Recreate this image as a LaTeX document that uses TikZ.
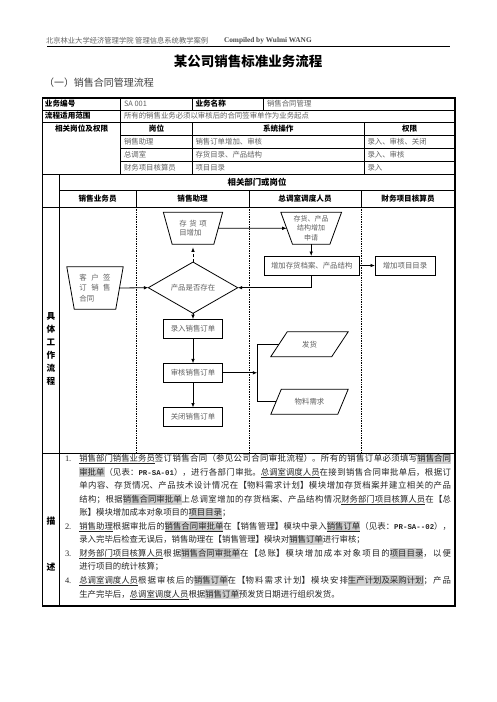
\documentclass[tikz,border=0pt]{standalone}
\usepackage{fontspec}
\setmainfont{Noto Sans CJK SC}
\newfontfamily\latserif{Liberation Serif}
\newfontfamily\monof{Liberation Mono}
\usetikzlibrary{arrows.meta,shapes.geometric,calc}
\definecolor{txtgray}{gray}{0.38}
\definecolor{hlgray}{gray}{0.82}
\XeTeXlinebreaklocale "zh"
\XeTeXlinebreakskip=0pt plus 1pt minus 0.2pt
\newcommand\hlb[1]{{\fboxsep=0pt\colorbox{hlgray}{\rule[-2.4pt]{0pt}{10.4pt}#1}}}
\newcommand\ulb[1]{\underline{#1}}
\newcommand\pr[1]{{\monof\bfseries\fontsize{7.4}{13.55}\selectfont #1}}
\begin{document}
\begin{tikzpicture}[x=1pt,y=-1pt,
  every node/.style={inner sep=0pt,outer sep=0pt},
  tl/.style={line width=0.8pt},
  tlo/.style={line width=1.1pt},
  lane/.style={line width=0.7pt,dash pattern=on 0.8pt off 0.9pt},
  cell/.style={anchor=west,font=\fontsize{7.4}{9}\selectfont,text=txtgray},
  hcell/.style={font=\fontsize{7.6}{9}\selectfont\bfseries,text=black},
  fnt/.style={font=\fontsize{7.4}{9.5}\selectfont,text=txtgray},
  box/.style={draw,line width=0.8pt,rectangle,minimum height=19pt,fnt},
  trapbox/.style={draw,line width=0.8pt,trapezium,shape border rotate=180,trapezium stretches=true,fnt},
  parabox/.style={draw,line width=0.8pt,trapezium,trapezium stretches=true,trapezium left angle=51.3,trapezium right angle=128.7,minimum width=77.6pt,minimum height=25pt,fnt},
  conn/.style={line width=0.8pt,-{Latex[length=4.5pt,width=3.6pt]}},
  ln/.style={line width=0.8pt}
]
\useasboundingbox (0,0) rectangle (496,702);
\fill[white] (0,0) rectangle (496,702);

% page header
\node[anchor=west,font=\fontsize{7.3}{8}\selectfont,text=black!60] (hd1) at (46,40.7) {北京林业大学经济管理学院 管理信息系统教学案例};
\node[anchor=west,font=\latserif\bfseries\fontsize{7.3}{8}\selectfont,text=black!70] (hd2) at (224,40.7) {Compiled by Wulmi WANG};
\coordinate (hl1) at (47,46);
\coordinate (hl2) at (450,46);
\draw[line width=0.8pt] (hl1) -- (hl2);
\node[font=\fontsize{13.5}{15}\selectfont\bfseries] (title) at (248,61.7) {某公司销售标准业务流程};
\node[anchor=west,font=\fontsize{10}{12}\selectfont,text=black!75] (sub) at (44,83) {（一）销售合同管理流程};

% table grid
\draw[tlo] (42.5,98) rectangle (455,606);
\draw[tl] (42.5,110) -- (455,110);
\draw[tl] (42.5,122) -- (455,122);
\draw[tl] (120.7,135) -- (455,135);
\draw[tl] (120.7,148) -- (455,148);
\draw[tl] (120.7,161) -- (455,161);
\draw[tl] (42.5,174) -- (455,174);
\draw[tl] (59.3,190) -- (455,190);
\draw[tl] (42.5,207) -- (455,207);
\draw[tl] (42.5,453) -- (455,453);
\draw[tl] (120.7,98) -- (120.7,174);
\draw[tl] (192.3,98) -- (192.3,110);
\draw[tl] (263.3,98) -- (263.3,110);
\draw[tl] (192.3,122) -- (192.3,174);
\draw[tl] (364.3,122) -- (364.3,174);
\draw[tl] (59.3,174) -- (59.3,606);
\foreach \x in {136,249.3,361} {
  \draw[tl] (\x,190) -- (\x,207);
  \draw[lane] (\x,207) -- (\x,453);
}

% table texts
\node[hcell,anchor=west] (t11) at (45,104) {业务编号};
\node[cell] (t12) at (124,104) {SA 001};
\node[hcell,anchor=west] (t13) at (195.5,104) {业务名称};
\node[cell] (t14) at (267,104) {销售合同管理};
\node[hcell,anchor=west] (t21) at (45,116) {流程适用范围};
\node[cell] (t22) at (124,116) {所有的销售业务必须以审核后的合同签审单作为业务起点};
\node[hcell] (t31) at (81.6,128.5) {相关岗位及权限};
\node[hcell] (t32) at (156.5,128.5) {岗位};
\node[hcell] (t33) at (278.3,128.5) {系统操作};
\node[hcell] (t34) at (409.6,128.5) {权限};
\node[cell] (t41) at (124,141.5) {销售助理};
\node[cell] (t42) at (195.5,141.5) {销售订单增加、审核};
\node[cell] (t43) at (367.5,141.5) {录入、审核、关闭};
\node[cell] (t51) at (124,154.5) {总调室};
\node[cell] (t52) at (195.5,154.5) {存货目录、产品结构};
\node[cell] (t53) at (367.5,154.5) {录入、审核};
\node[cell] (t61) at (124,167.5) {财务项目核算员};
\node[cell] (t62) at (195.5,167.5) {项目目录};
\node[cell] (t63) at (367.5,167.5) {录入};
\node[hcell,font=\fontsize{8.4}{9}\selectfont\bfseries] (t71) at (257,182) {相关部门或岗位};
\node[hcell] (c1) at (97.6,198.5) {销售业务员};
\node[hcell] (c2) at (192.6,198.5) {销售助理};
\node[hcell] (c3) at (305,198.5) {总调室调度人员};
\node[hcell] (c4) at (408,198.5) {财务项目核算员};
\node[align=center,font=\fontsize{8.6}{13}\selectfont\bfseries] (side1) at (50.9,349) {具\\体\\工\\作\\流\\程};
\node[font=\fontsize{8.8}{10}\selectfont\bfseries] (side2) at (50.9,520.7) {描};
\node[font=\fontsize{8.8}{10}\selectfont\bfseries] (side3) at (50.9,566.7) {述};

% flowchart nodes
\node[trapbox,minimum width=59.4pt,minimum height=32pt,trapezium left angle=70.5,trapezium right angle=70.5,align=left] (n1) at (193,228.3) {存\hspace{2.6pt}货\hspace{2.6pt}项\\目增加};
\node[trapbox,minimum width=56.6pt,minimum height=42.6pt,trapezium left angle=78.6,trapezium right angle=78.6,align=left,font=\fontsize{7.4}{10.5}\selectfont] (n2) at (95,288) {客\hspace{4.5pt}户\hspace{4.5pt}签\\订\hspace{4.5pt}销\hspace{4.5pt}售\\合同};
\node[draw,line width=0.8pt,diamond,minimum width=89.4pt,minimum height=25.7pt,fnt] (n3) at (193,287.7) {产品是否存在};
\node[trapbox,minimum width=61pt,minimum height=32pt,trapezium left angle=66.6,trapezium right angle=66.6,align=center,font=\fontsize{7}{9.4}\selectfont] (n4) at (311.2,228.3) {存货、产品\\结构增加\\申请};
\node[box,minimum width=95.3pt] (n5) at (311.7,265.5) {增加存货档案、产品结构};
\node[box,minimum width=60pt] (n6) at (405,265.5) {增加项目目录};
\node[box,minimum width=59.4pt] (n7) at (193,328.7) {录入销售订单};
\node[box,minimum width=59.4pt] (n8) at (193,372.8) {审核销售订单};
\node[box,minimum width=59.4pt] (n9) at (193,417) {关闭销售订单};
\node[parabox] (n10) at (309.5,344.2) {发货};
\node[parabox] (n11) at (309.5,401.8) {物料需求};
\coordinate (bx) at (257.3,372.8);

% connectors
\draw[conn] (n2.0) -- (n3.west);
\draw[conn,dash pattern=on 3pt off 2pt,shorten >=3pt] (n3.north) -- (n1.270);
\draw[conn] (n3.south) -- (n7.north);
\draw[conn] (n7.south) -- (n8.north);
\draw[conn] (n8.south) -- (n9.north);
\draw[conn] (n1.0) -- (n4.180);
\draw[conn] (n4.270) -- (n4.270 |- n5.north);
\draw[conn] (n5.east) -- (n6.west);
\draw[conn] (n5.south) |- (n3.east);
\draw[conn] (n8.east) -- (bx);
\draw[ln] (n10.180) -| (bx) |- (n11.180);

% description
\node[anchor=north west,text width=386pt,align=justify,font=\fontsize{8.4}{13.55}\selectfont,text=black!85] (desc) at (65,453.5) {%
\parindent=0pt
\hangindent=14.3pt\hangafter=1\makebox[14.3pt][l]{\latserif 1.}\ulb{销售部门销售业务员}签订销售合同（参见公司合同审批流程）。所有的销售订单必须填写\hlb{销售合同}\linebreak
\hlb{审批单}（见表：\pr{PR-SA-01}），进行各部门审批。\ulb{总调室调度人员}在接到销售合同审批单后，根据订\linebreak
单内容、存货情况、产品技术设计情况在【物料需求计划】模块增加存货档案并建立相关的产品\linebreak
结构；根据\hlb{销售合同审批单}上总调室增加的存货档案、产品结构情况\ulb{财务部门项目核算人员}在【总\linebreak
账】模块增加成本对象项目的\hlb{\ulb{项目目录}}；\par
\hangindent=14.3pt\hangafter=1\makebox[14.3pt][l]{\latserif 2.}\ulb{销售助理}根据审批后的\hlb{\ulb{销售合同审批单}}在【销售管理】模块中录入\hlb{\ulb{销售订单}}（见表：\pr{PR-SA--02}），\linebreak
录入完毕后检查无误后，销售助理在【销售管理】模块对\hlb{销售订单}进行审核；\par
\hangindent=14.3pt\hangafter=1\makebox[14.3pt][l]{\latserif 3.}\ulb{财务部门项目核算人员}根据\hlb{销售合同审批单}在【总账】模块增加成本对象项目的\hlb{项目目录}，以便\linebreak
进行项目的统计核算；\par
\hangindent=14.3pt\hangafter=1\makebox[14.3pt][l]{\latserif 4.}\ulb{总调室调度人员}根据审核后的\hlb{销售订单}在【物料需求计划】模块安排\hlb{生产计划及采购计划}；产品\linebreak
生产完毕后，\ulb{总调室调度人员}根据\hlb{销售订单}预发货日期进行组织发货。\par
};
\end{tikzpicture}
\end{document}
